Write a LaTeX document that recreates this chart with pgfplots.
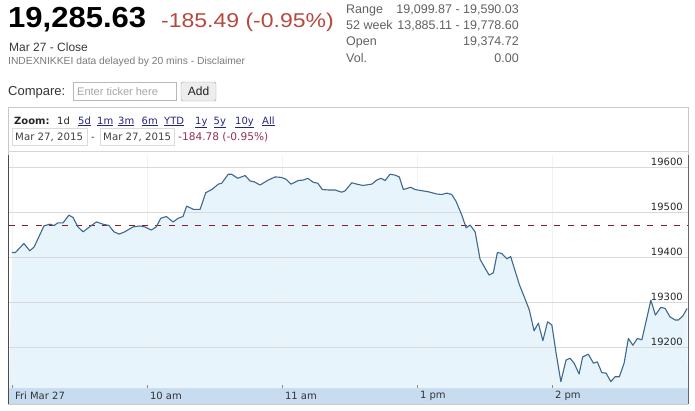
\documentclass[border=0pt]{standalone}
\usepackage{fontspec}
\setmainfont{Liberation Sans}
\newfontfamily\chartfont{DejaVu Sans}
\usepackage{graphicx}
\usepackage{pgfplots}
\usepackage{pgfplotstable}
\usepgfplotslibrary{fillbetween}
\pgfplotsset{compat=1.18}

\definecolor{linecol}{RGB}{62,104,140}
\definecolor{fillcol}{RGB}{232,244,252}
\definecolor{bandcol}{RGB}{200,220,240}
\definecolor{gridcol}{RGB}{218,218,218}
\definecolor{vgridcol}{RGB}{240,242,244}
\definecolor{prevcol}{RGB}{132,30,42}
\definecolor{redtxt}{RGB}{182,72,62}
\definecolor{linktxt}{RGB}{36,36,130}
\definecolor{chgtxt}{RGB}{150,48,84}

\newcommand{\fs}[1]{\fontsize{#1}{#1}\selectfont}

% minutes of trading from 9:00 (lunch break 11:30-12:30 removed), index level
\pgfplotstableread{
m v
0 19410
1.5 19410
5.3 19430
7.9 19414
9.8 19422
14.2 19469
16.8 19473
18.7 19470
20.4 19476
22.7 19476
25.3 19493
27.1 19488
29.3 19467
31.6 19456
34.5 19467
37.5 19478
40.4 19473
43.1 19470
45.3 19456
47.6 19451
50.1 19456
53.8 19467
56.8 19469
59.0 19467
61.9 19460
64.1 19467
66.1 19486
68.6 19490
71.6 19478
73.8 19486
76.0 19490
77.6 19513
80.6 19506
83.6 19506
86.1 19543
88.8 19550
91.7 19562
93.2 19564
96.1 19584
97.6 19584
100.3 19575
103.6 19581
105.8 19569
107.7 19567
110.2 19560
113.9 19571
116.9 19578
119.6 19577
121.8 19573
124.0 19562
127.2 19570
129.5 19571
131.4 19575
133.9 19566
135.9 19564
137.9 19550
140.6 19549
143.6 19549
146.5 19544
148.0 19547
151.0 19565
153.2 19562
155.9 19559
159.9 19562
162.1 19571
164.0 19575
165.8 19570
168.0 19584
170.2 19582
172.1 19578
173.9 19550
177.2 19555
179.1 19550
185.0 19545
188.8 19540
191.0 19539
193.2 19542
195.4 19539
197.3 19524
199.9 19493
201.8 19465
203.6 19471
205.8 19456
208.0 19395
209.8 19379
212.0 19360
213.9 19365
215.7 19410
217.6 19408
219.9 19396
221.6 19401
225.5 19338
227.6 19312
229.9 19282
232.0 19236
233.9 19253
235.9 19214
238.0 19256
239.9 19249
241.8 19186
243.9 19123
246.2 19171
248.0 19175
249.8 19164
252.0 19140
253.6 19178
256.1 19184
258.4 19164
260.1 19167
262.1 19143
264.0 19142
266.1 19123
268.0 19134
269.9 19134
272.0 19164
273.9 19219
275.9 19204
277.9 19219
279.9 19216
283.9 19304
285.9 19271
288.3 19288
290.2 19286
292.4 19267
294.7 19260
296.1 19260
298.1 19269
300.0 19285.63
}\nikkei

\begin{document}
\begin{tikzpicture}
\path (0pt,0pt) rectangle (695pt,-410pt);

\begin{scope}[x=1pt,y=-1pt]
% quote header
\node[anchor=base west,inner sep=0] at (8,27) {\scalebox{1.07}[1]{\fs{29}\bfseries 19,285.63}};
\node[anchor=base west,inner sep=0,text=redtxt] at (161,27) {\scalebox{1.15}[1]{\fs{20}-185.49 (-0.95\%)}};
\node[anchor=base west,inner sep=0,text=black!78] at (9,51.5) {\fs{12}Mar 27 - Close};
\node[anchor=base west,inner sep=0,text=black!52] at (8,64) {\fs{10.3}INDEXNIKKEI data delayed by 20 mins - Disclaimer};
\begin{scope}[every node/.style={inner sep=0,text=black!62}]
\node[anchor=base west] at (346,13) {\fs{12.5}Range};
\node[anchor=base east] at (519,13) {\fs{12.5}19,099.87 - 19,590.03};
\node[anchor=base west] at (346,29) {\fs{12.5}52 week};
\node[anchor=base east] at (519,29) {\fs{12.5}13,885.11 - 19,778.60};
\node[anchor=base west] at (346,45) {\fs{12.5}Open};
\node[anchor=base east] at (519,45) {\fs{12.5}19,374.72};
\node[anchor=base west] at (346,62) {\fs{12.5}Vol.};
\node[anchor=base east] at (519,62) {\fs{12.5}0.00};
\end{scope}

% compare row
\node[anchor=base west,inner sep=0,text=black!80] at (8,95) {\fs{13}Compare:};
\draw[black!28,fill=white] (73,82) rectangle (176,100);
\node[anchor=base west,inner sep=0,text=black!35] at (77,95) {\fs{11}Enter ticker here};
\draw[black!38,fill=black!7,rounded corners=1.5] (181,82) rectangle (216,101);
\node[inner sep=0,text=black!88] at (198.5,91.5) {\fs{12}Add};

% chart frame and controls
\draw[black!22] (8,107) -- (688,107);
\draw[black!22] (8,107) -- (8,155);
\draw[black!22] (688,107) -- (688,155);
\node[anchor=base west,inner sep=0,text=black!85] at (14,124) {\chartfont\fs{10}\bfseries Zoom:};
\begin{scope}[every node/.style={anchor=base west,inner sep=0,text=linktxt}]
\node[text=black!85] at (57,124) {\chartfont\fs{10}1d};
\node at (78,124) {\chartfont\fs{10}\underline{5d}};
\node at (97,124) {\chartfont\fs{10}\underline{1m}};
\node at (118,124) {\chartfont\fs{10}\underline{3m}};
\node at (141.5,124) {\chartfont\fs{10}\underline{6m}};
\node at (164,124) {\chartfont\fs{10}\underline{YTD}};
\node at (195,124) {\chartfont\fs{10}\underline{1y}};
\node at (213.5,124) {\chartfont\fs{10}\underline{5y}};
\node at (235,124) {\chartfont\fs{10}\underline{10y}};
\node at (262,124) {\chartfont\fs{10}\underline{All}};
\end{scope}
\draw[black!14] (12,128) rectangle (87,145);
\draw[black!14] (100,128) rectangle (174.5,145);
\node[anchor=base west,inner sep=0,text=black!75] at (15,140.5) {\chartfont\fs{10.2}Mar 27, 2015};
\node[anchor=base west,inner sep=0,text=black!75] at (91,140.5) {\chartfont\fs{10.2}-};
\node[anchor=base west,inner sep=0,text=black!75] at (103,140.5) {\chartfont\fs{10.2}Mar 27, 2015};
\node[anchor=base west,inner sep=0,text=chgtxt] at (178,140.5) {\chartfont\fs{10.6}-184.78 (-0.95\%)};
\draw[black!16] (8,151.5) -- (688,151.5);
\draw[black!20] (8,404.5) -- (688,404.5);
\end{scope}

\begin{axis}[
  at={(9pt,-388pt)}, anchor=south west,
  scale only axis, width=679pt, height=233pt,
  xmin=-1.33, xmax=300.4, ymin=19108.9, ymax=19626.7,
  set layers, clip mode=individual,
  axis line style={draw=none},
  scaled y ticks=false, scaled x ticks=false,
  xtick={0,60,120,180,240},
  xticklabels={Fri Mar 27,10 am,11 am,1 pm,2 pm},
  xtick pos=bottom, tick align=inside,
  major tick length=3pt,
  xtick style={black!45, line width=0.6pt},
  xticklabel style={font=\chartfont\fs{10}, text=black!80, anchor=west, yshift=-8pt, xshift=-0.5pt},
  ytick={19200,19300,19400,19500,19600},
  yticklabels={19200,19300,19400,19500,19600},
  yticklabel pos=right,
  ytick style={draw=none},
  yticklabel style={font=\chartfont\fs{10}, text=black!85, anchor=south east, inner sep=1pt, xshift=-4pt},
  xmajorgrids, ymajorgrids,
  x grid style={vgridcol, line width=0.8pt},
  y grid style={gridcol, line width=0.8pt},
]
% time axis band under the plot area
\begin{pgfonlayer}{axis background}
\fill[bandcol] (rel axis cs:0,0) rectangle (rel axis cs:1,-0.0687);
\end{pgfonlayer}
\addplot[name path=base, draw=none, forget plot] coordinates {(-1.33,19108.9) (300.4,19108.9)};
\addplot[name path=curve, draw=none, forget plot] table[x=m,y=v] {\nikkei};
\addplot[fill=fillcol, draw=none] fill between[of=curve and base, on layer=axis background];
\addplot[prevcol, line width=0.9pt, dash pattern=on 6pt off 7.3pt] coordinates {(-1.33,19471.12) (300.4,19471.12)};
\addplot[linecol, line width=1.1pt, line join=round] table[x=m,y=v] {\nikkei};
\end{axis}

\begin{scope}[x=1pt,y=-1pt]
\draw[black!70, line width=1.2pt] (8.6,155) -- (8.6,404);
\draw[black!60, line width=1pt] (688,155) -- (688,404);
\end{scope}
\end{tikzpicture}
\end{document}
